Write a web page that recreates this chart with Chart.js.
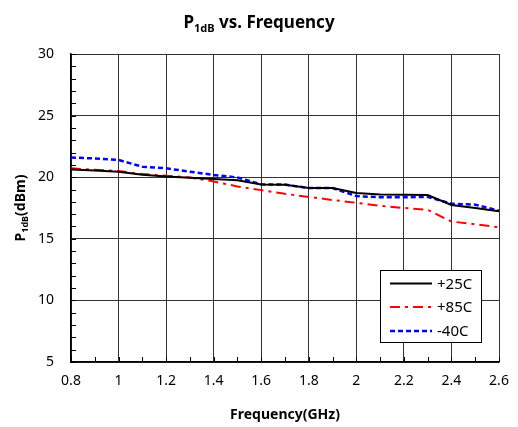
<!DOCTYPE html>
<html>
<head>
<meta charset="utf-8">
<script src="https://cdn.jsdelivr.net/npm/chart.js@4.4.1/dist/chart.umd.min.js"></script>
<style>
  body { margin: 0; background: #fff; }
  canvas { display: block; }
</style>
</head>
<body>
<canvas id="p1dbChart" width="518" height="427"></canvas>
<script>
// frequency points (GHz)
const freqs = [0.8, 0.9, 1.0, 1.1, 1.2, 1.3, 1.4, 1.5, 1.6, 1.7, 1.8, 1.9, 2.0, 2.1, 2.2, 2.3, 2.4, 2.5, 2.6];

// P1dB (dBm) per temperature
const p1dbPlus25 = [20.62, 20.55, 20.45, 20.2, 20.05, 19.95, 19.85, 19.75, 19.4, 19.38, 19.12, 19.12, 18.72, 18.6, 18.58, 18.55, 17.75, 17.5, 17.23];
const p1dbPlus85 = [20.72, 20.6, 20.5, 20.25, 20.12, 19.98, 19.65, 19.25, 18.95, 18.65, 18.4, 18.15, 17.92, 17.68, 17.5, 17.35, 16.4, 16.18, 15.93];
const p1dbMinus40 = [21.6, 21.52, 21.4, 20.85, 20.72, 20.45, 20.18, 19.98, 19.42, 19.4, 19.12, 19.12, 18.47, 18.37, 18.37, 18.4, 17.85, 17.77, 17.28];

const seriesLabels = ['+25C', '+85C', '-40C'];

// axis ranges
const xMin = 0.8, xMax = 2.6, xStep = 0.2, xMinorStep = 0.1;
const yMin = 5, yMax = 30, yStep = 5, yMinorStep = 1;

const FONT = "'Noto Sans', 'DejaVu Sans', sans-serif";

function toPoints(vals) {
    return freqs.map((f, i) => ({ x: f, y: vals[i] }));
}

// draws the titles (with subscript), minor ticks and the boxed legend
const decorPlugin = {
    id: 'decor',
    afterDraw(chart) {
        const ctx = chart.ctx;
        const area = chart.chartArea;
        const xs = chart.scales.x;
        const ys = chart.scales.y;

        ctx.save();

        // minor ticks inside the plot
        ctx.strokeStyle = '#000';
        ctx.lineWidth = 1;
        ctx.beginPath();
        for (let v = xMin; v <= xMax + 1e-9; v += xMinorStep) {
            const px = Math.round(xs.getPixelForValue(v)) + 0.5;
            ctx.moveTo(px, area.bottom);
            ctx.lineTo(px, area.bottom - 5);
        }
        for (let v = yMin; v <= yMax + 1e-9; v += yMinorStep) {
            const py = Math.round(ys.getPixelForValue(v)) + 0.5;
            ctx.moveTo(area.left, py);
            ctx.lineTo(area.left + 5, py);
        }
        ctx.stroke();

        // chart title: P1dB vs. Frequency
        ctx.fillStyle = '#000';
        ctx.textBaseline = 'alphabetic';
        const big = 'bold 17px ' + FONT;
        const small = 'bold 11px ' + FONT;
        ctx.font = big;
        const wP = ctx.measureText('P').width;
        const wRest = ctx.measureText(' vs. Frequency').width;
        ctx.font = small;
        const wSub = ctx.measureText('1dB').width;
        let tx = 259 - (wP + wSub + wRest) / 2;
        const ty = 28;
        ctx.textAlign = 'left';
        ctx.font = big;
        ctx.fillText('P', tx, ty);
        tx += wP;
        ctx.font = small;
        ctx.fillText('1dB', tx, ty + 4);
        tx += wSub;
        ctx.font = big;
        ctx.fillText(' vs. Frequency', tx, ty);

        // x axis title
        ctx.font = 'bold 14px ' + FONT;
        ctx.textAlign = 'center';
        ctx.fillText('Frequency(GHz)', (area.left + area.right) / 2, 419);

        // y axis title, rotated
        ctx.save();
        ctx.translate(25, (area.top + area.bottom) / 2);
        ctx.rotate(-Math.PI / 2);
        const yb = 'bold 14px ' + FONT;
        const ys2 = 'bold 9px ' + FONT;
        ctx.font = yb;
        const w1 = ctx.measureText('P').width;
        const w3 = ctx.measureText('(dBm)').width;
        ctx.font = ys2;
        const w2 = ctx.measureText('1dB').width;
        let lx = -(w1 + w2 + w3) / 2;
        ctx.textAlign = 'left';
        ctx.font = yb;
        ctx.fillText('P', lx, 0);
        lx += w1;
        ctx.font = ys2;
        ctx.fillText('1dB', lx, 3);
        lx += w2;
        ctx.font = yb;
        ctx.fillText('(dBm)', lx, 0);
        ctx.restore();

        // legend box
        const bx = 380.5, by = 270.5, bw = 101, bh = 72;
        ctx.fillStyle = '#fff';
        ctx.fillRect(bx, by, bw, bh);
        ctx.strokeStyle = '#000';
        ctx.lineWidth = 1;
        ctx.setLineDash([]);
        ctx.strokeRect(bx, by, bw, bh);
        const rows = [283.5, 307, 331];
        chart.data.datasets.forEach((ds, i) => {
            ctx.strokeStyle = ds.borderColor;
            ctx.lineWidth = ds.borderWidth;
            ctx.setLineDash(ds.borderDash || []);
            ctx.beginPath();
            ctx.moveTo(390, rows[i]);
            ctx.lineTo(432, rows[i]);
            ctx.stroke();
            ctx.setLineDash([]);
            ctx.fillStyle = '#000';
            ctx.font = '15px ' + FONT;
            ctx.textAlign = 'left';
            ctx.textBaseline = 'middle';
            ctx.fillText(ds.label, 437, rows[i] + 1);
        });

        ctx.restore();
    }
};

new Chart(document.getElementById('p1dbChart').getContext('2d'), {
    type: 'line',
    data: {
        datasets: [
            {
                label: seriesLabels[0],
                data: toPoints(p1dbPlus25),
                borderColor: '#000000',
                borderWidth: 2,
                pointRadius: 0,
                tension: 0
            },
            {
                label: seriesLabels[1],
                data: toPoints(p1dbPlus85),
                borderColor: '#ff0000',
                borderWidth: 2,
                borderDash: [10, 5, 3, 5],
                pointRadius: 0,
                tension: 0
            },
            {
                label: seriesLabels[2],
                data: toPoints(p1dbMinus40),
                borderColor: '#0000ff',
                borderWidth: 2.5,
                borderDash: [5, 3],
                pointRadius: 0,
                tension: 0
            }
        ]
    },
    options: {
        responsive: false,
        animation: false,
        devicePixelRatio: 1,
        layout: { padding: { top: 54, right: 19, left: 0, bottom: 0 } },
        plugins: {
            legend: { display: false },
            title: { display: false },
            tooltip: { enabled: false }
        },
        scales: {
            x: {
                type: 'linear',
                min: xMin,
                max: xMax,
                afterBuildTicks: (scale) => {
                    const t = [];
                    for (let v = xMin; v <= xMax + 1e-9; v += xStep) t.push({ value: +v.toFixed(1) });
                    scale.ticks = t;
                },
                afterFit: (scale) => {
                    scale.height = 65;
                    scale.paddingRight = 0;
                    scale.paddingLeft = 0;
                },
                grid: { color: '#333', lineWidth: 1, drawTicks: false },
                border: { color: '#000', width: 1.5 },
                ticks: {
                    padding: 11,
                    color: '#000',
                    font: { family: FONT, size: 14 },
                    maxRotation: 0,
                    callback: (v) => String(+(+v).toFixed(1))
                }
            },
            y: {
                min: yMin,
                max: yMax,
                afterFit: (scale) => { scale.width = 71; },
                grid: { color: '#333', lineWidth: 1, drawTicks: false },
                border: { color: '#000', width: 1.5 },
                ticks: {
                    stepSize: yStep,
                    padding: 17,
                    color: '#000',
                    font: { family: FONT, size: 14 }
                }
            }
        }
    },
    plugins: [decorPlugin]
});
</script>
</body>
</html>
